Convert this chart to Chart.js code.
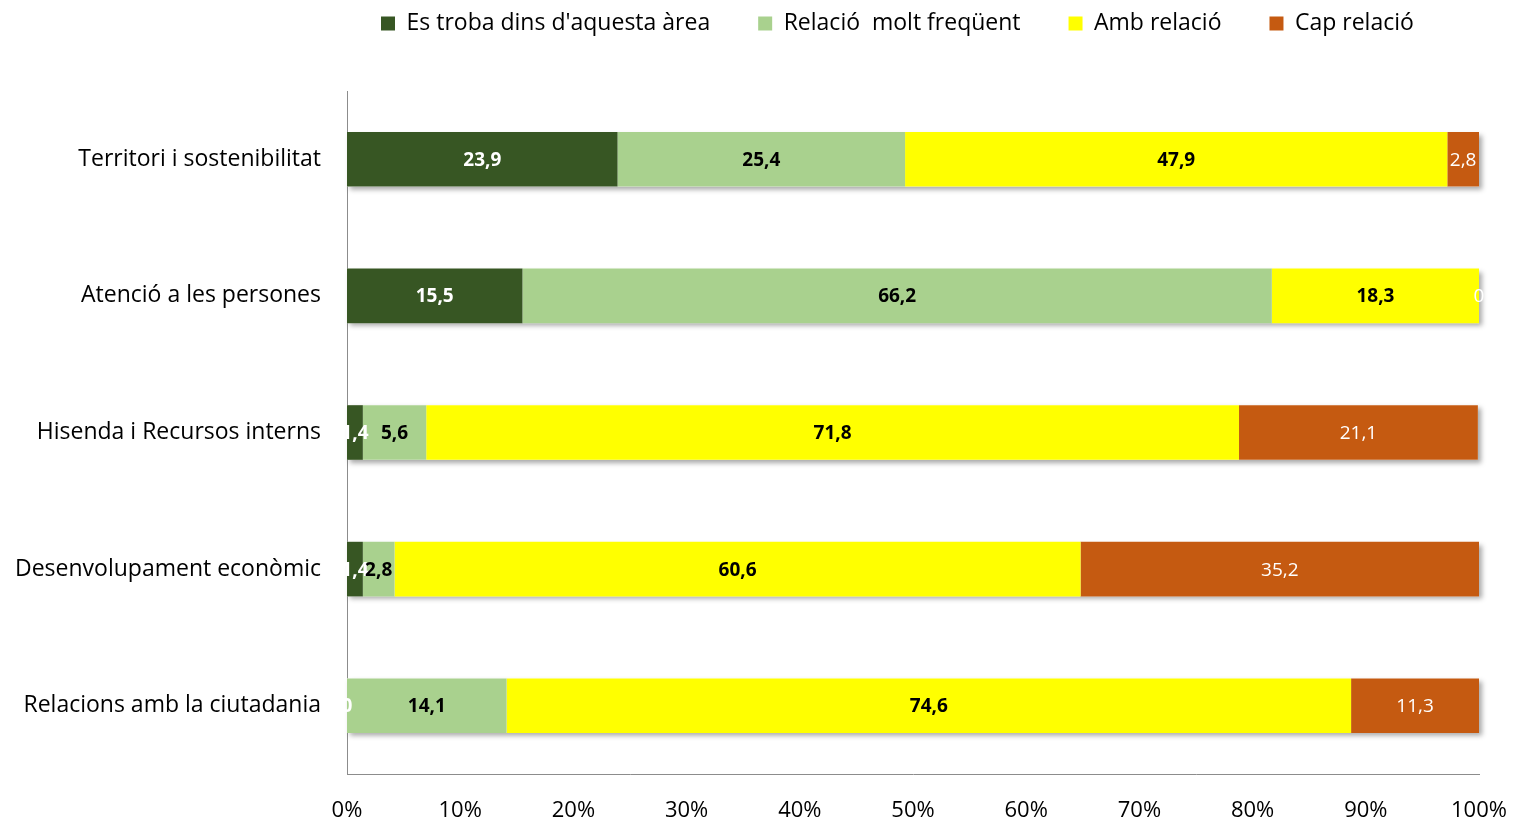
<!DOCTYPE html>
<html lang="ca">
<head>
    <meta charset="UTF-8">
    <title>Relació amb l'àrea</title>
    <script src="https://cdn.jsdelivr.net/npm/chart.js"></script>
    <style>
        html, body { margin: 0; padding: 0; background: #fff; }
        #wrap { width: 1513px; height: 820px; position: relative; }
    </style>
</head>
<body>
    <div id="wrap"><canvas id="chart"></canvas></div>

    <script>
        const categories = [
            'Territori i sostenibilitat',
            'Atenció a les persones',
            'Hisenda i Recursos interns',
            'Desenvolupament econòmic',
            'Relacions amb la ciutadania'
        ];
        const seriesNames = ['Es troba dins d\'aquesta àrea', 'Relació  molt freqüent', 'Amb relació', 'Cap relació'];
        const dinsArea = [23.9, 15.5, 1.4, 1.4, 0];
        const moltFrequent = [25.4, 66.2, 5.6, 2.8, 14.1];
        const ambRelacio = [47.9, 18.3, 71.8, 60.6, 74.6];
        const capRelacio = [2.8, 0, 21.1, 35.2, 11.3];
        const xTicks = [0, 10, 20, 30, 40, 50, 60, 70, 80, 90, 100];

        const colors = ['#375623', '#a9d18e', '#ffff00', '#c55a11'];
        const labelColors = ['#ffffff', '#000000', '#000000', '#ffffff'];
        const labelBold = [true, true, true, false];
        const font = "'Open Sans', sans-serif";
        const legendPad = 48;

        // one drop shadow behind each whole stacked bar, drawn before the segments
        const shadowPlugin = {
            id: 'shadow',
            beforeDatasetsDraw(chart) {
                const ctx = chart.ctx;
                const first = chart.getDatasetMeta(0).data;
                const last = chart.getDatasetMeta(chart.data.datasets.length - 1).data;
                ctx.save();
                ctx.shadowColor = 'rgba(0,0,0,0.35)';
                ctx.shadowBlur = 5;
                ctx.shadowOffsetX = 3;
                ctx.shadowOffsetY = 3;
                ctx.fillStyle = '#fff';
                first.forEach((bar, j) => {
                    const x0 = bar.base;
                    const x1 = last[j].x;
                    ctx.fillRect(x0, bar.y - bar.height / 2, x1 - x0, bar.height);
                });
                ctx.restore();
            }
        };

        // value labels in the middle of each segment
        const valueLabels = {
            id: 'valueLabels',
            afterDatasetsDraw(chart) {
                const ctx = chart.ctx;
                ctx.save();
                ctx.textAlign = 'center';
                ctx.textBaseline = 'middle';
                chart.data.datasets.forEach((ds, i) => {
                    const meta = chart.getDatasetMeta(i);
                    ctx.font = (labelBold[i] ? 'bold ' : '') + '19px ' + font;
                    ctx.fillStyle = labelColors[i];
                    meta.data.forEach((bar, j) => {
                        const v = ds.data[j];
                        const txt = v === 0 ? '0' : v.toFixed(1).replace('.', ',');
                        ctx.fillText(txt, (bar.x + bar.base) / 2, bar.y + 1);
                    });
                });
                ctx.restore();
            }
        };

        // fixed legend band at the top, items placed like the original
        const legendPlace = {
            id: 'legendPlace',
            beforeInit(chart) {
                const fit = chart.legend.fit;
                chart.legend.fit = function () {
                    fit.bind(chart.legend)();
                    this.height = 91;
                };
            },
            afterLayout(chart) {
                chart.legend.left = 381 - legendPad;
                chart.legend.top = -36;
            }
        };

        const series = [dinsArea, moltFrequent, ambRelacio, capRelacio];

        new Chart(document.getElementById('chart'), {
            type: 'bar',
            data: {
                labels: categories,
                datasets: series.map((d, i) => ({
                    label: seriesNames[i],
                    data: d,
                    backgroundColor: colors[i],
                    borderWidth: 0,
                    categoryPercentage: 1,
                    barPercentage: 0.4
                }))
            },
            options: {
                indexAxis: 'y',
                responsive: true,
                maintainAspectRatio: false,
                animation: false,
                layout: { padding: { left: 0, right: 34, top: 0, bottom: 0 } },
                plugins: {
                    tooltip: { enabled: false },
                    legend: {
                        position: 'top',
                        align: 'start',
                        labels: {
                            boxWidth: 14,
                            boxHeight: 14,
                            padding: legendPad,
                            color: '#000',
                            font: { family: font, size: 23 }
                        }
                    }
                },
                scales: {
                    x: {
                        stacked: true,
                        min: 0,
                        max: 100,
                        grid: { display: false, drawTicks: false },
                        border: { display: true, color: '#8c8c8c', width: 1 },
                        afterBuildTicks(scale) {
                            scale.ticks = xTicks.map(v => ({ value: v }));
                        },
                        ticks: {
                            color: '#000',
                            padding: 24,
                            font: { family: font, size: 22 },
                            callback: v => v + '%'
                        },
                        afterFit(scale) {
                            scale.height = 46;
                            scale.paddingRight = 0;
                            scale.paddingLeft = 0;
                        }
                    },
                    y: {
                        stacked: true,
                        grid: { display: false, drawTicks: false },
                        border: { display: true, color: '#8c8c8c', width: 1 },
                        ticks: {
                            color: '#000',
                            padding: 26,
                            font: { family: font, size: 23 }
                        },
                        afterFit(scale) { scale.width = 347; }
                    }
                }
            },
            plugins: [legendPlace, shadowPlugin, valueLabels]
        });
    </script>
</body>
</html>
